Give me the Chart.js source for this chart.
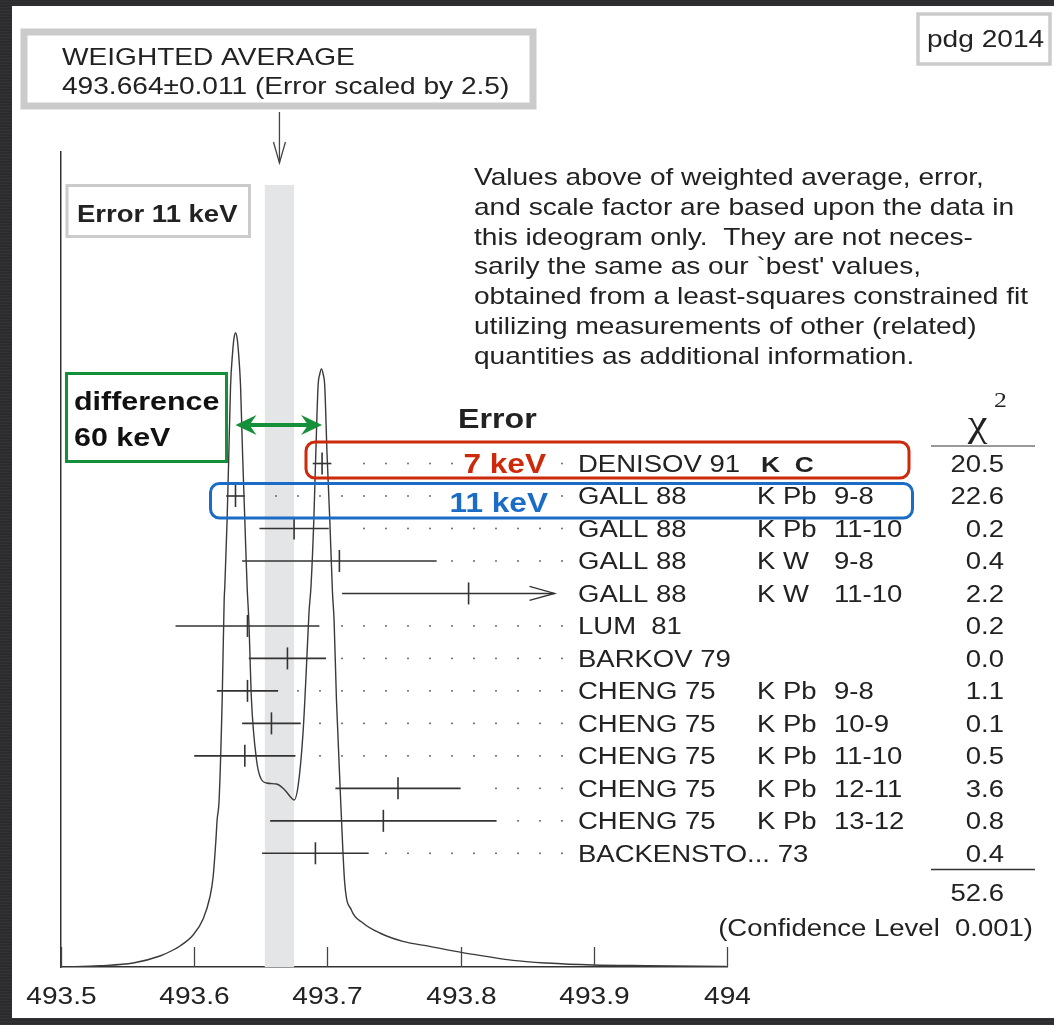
<!DOCTYPE html>
<html>
<head>
<meta charset="utf-8">
<script src="https://cdn.jsdelivr.net/npm/chart.js@4.4.1/dist/chart.umd.min.js"></script>
<style>
  html, body { margin: 0; padding: 0; }
  body {
    width: 1054px; height: 1025px; overflow: hidden; position: relative;
    background-color: #2c2c2e;
    background-image: repeating-linear-gradient(0deg, rgba(255,255,255,0.035) 0px, rgba(255,255,255,0.035) 1px, rgba(0,0,0,0) 1px, rgba(0,0,0,0) 3px);
  }
  #panel { position: absolute; left: 12px; top: 6px; width: 1042px; height: 1012px; background: #fff; }
  #chart { position: absolute; left: 0; top: 0; }
</style>
</head>
<body>
<div id="panel"></div>
<canvas id="chart" width="1054" height="1025"></canvas>
<script>
// measurements, one per row, top to bottom
const authors = ["DENISOV 91", "GALL 88", "GALL 88", "GALL 88", "GALL 88", "LUM  81", "BARKOV 79",
  "CHENG 75", "CHENG 75", "CHENG 75", "CHENG 75", "CHENG 75", "BACKENSTO... 73"];
const targets = ["K  C", "K Pb", "K Pb", "K W", "K W", "", "", "K Pb", "K Pb", "K Pb", "K Pb", "K Pb", ""];
const transitions = ["", "9-8", "11-10", "9-8", "11-10", "", "", "9-8", "10-9", "11-10", "12-11", "13-12", ""];
const masses = [493.696, 493.631, 493.675, 493.709, 493.806, 493.640, 493.670, 493.640, 493.658, 493.638, 493.753, 493.742, 493.691];
const errors = [0.007, 0.007, 0.026, 0.073, 0.095, 0.054, 0.029, 0.023, 0.022, 0.038, 0.047, 0.085, 0.040];
const chi2 = ["20.5", "22.6", "0.2", "0.4", "2.2", "0.2", "0.0", "1.1", "0.1", "0.5", "3.6", "0.8", "0.4"];
const chi2Total = "52.6";
const confLevel = "0.001";

// weighted average
const avgMass = 493.664;
const avgErr = 0.011;
const scaleFactor = 2.5;

// ideogram curve (x in MeV, y = height above axis)
const ideoX = [493.500, 493.5293, 493.5542, 493.5743, 493.5842, 493.5893, 493.5992, 493.6067, 493.6118, 493.6142,
  493.6163, 493.6172, 493.6187, 493.6210, 493.6225, 493.6230, 493.6247, 493.6260, 493.6273, 493.6288,
  493.6299, 493.6310, 493.6322, 493.6333, 493.6348, 493.6363, 493.6380, 493.6397, 493.6410, 493.6430,
  493.6468, 493.6493, 493.6543, 493.6618, 493.6680, 493.6730, 493.6750, 493.6780, 493.6817, 493.6843,
  493.6862, 493.6877, 493.6898, 493.6913, 493.6930, 493.6943, 493.6955, 493.6968, 493.6980, 493.6997,
  493.7018, 493.7038, 493.7050, 493.7068, 493.7105, 493.7130, 493.7180, 493.7267, 493.7393, 493.7567,
  493.7768, 493.8005, 493.8193, 493.8392, 493.8643, 493.8992, 493.9393, 493.9993];
const ideoY = [0, 1.3, 4, 11, 17, 21, 32, 48, 70, 90,
  127, 147, 167, 267, 367, 381, 447, 514, 581, 614,
  629, 634, 629, 614, 581, 514, 447, 381, 347, 267,
  207, 191, 184, 183, 177, 169, 167, 181, 234, 301,
  355, 381, 447, 514, 581, 593, 598, 593, 581, 514,
  447, 375, 347, 267, 150, 84, 57, 44, 34, 25.6,
  20.6, 14.6, 10.6, 6.6, 4, 2, 1.3, 0.6];

const xMin = 493.5, xMax = 494, xStep = 0.1;
const barClip = 493.8705;

const paragraph = [
  "Values above of weighted average, error,",
  "and scale factor are based upon the data in",
  "this ideogram only.  They are not neces-",
  "sarily the same as our `best' values,",
  "obtained from a least-squares constrained fit",
  "utilizing measurements of other (related)",
  "quantities as additional information."
];

const SX = 1.17;
const FONT = "'Liberation Sans', Arial, Helvetica, sans-serif";
const SERIF = "'Liberation Serif', 'Times New Roman', serif";
const INK = "#222";
const RED = "#cc2a0a";
const BLUE = "#1a6cc6";
const GREEN = "#15903a";
const BOXGRAY = "#cbcbcb";

function txt(ctx, s, x, y, size, o) {
  o = o || {};
  ctx.save();
  ctx.font = (o.bold ? "bold " : "") + size + "px " + (o.family || FONT);
  ctx.fillStyle = o.color || INK;
  const w = ctx.measureText(s).width * SX;
  let x0 = x;
  if (o.align === "right") x0 = x - w;
  if (o.align === "center") x0 = x - w / 2;
  if (o.bg) {
    ctx.fillStyle = o.bg;
    ctx.fillRect(x0 - 3, y - size * 0.85, w + 6, size * 0.95);
    ctx.fillStyle = o.color || INK;
  }
  ctx.translate(x0, y);
  ctx.scale(SX, 1);
  ctx.textBaseline = "alphabetic";
  ctx.textAlign = "left";
  ctx.fillText(s, 0, 0);
  ctx.restore();
  return w;
}

function seg(ctx, x1, y1, x2, y2) {
  ctx.beginPath(); ctx.moveTo(x1, y1); ctx.lineTo(x2, y2); ctx.stroke();
}

function roundBox(ctx, x, y, w, h, r) {
  ctx.beginPath();
  ctx.roundRect(x, y, w, h, r);
  ctx.stroke();
}

function greenHead(ctx, tx, ty, dir) {
  ctx.beginPath();
  ctx.moveTo(tx, ty);
  ctx.lineTo(tx + dir * 21, ty - 10);
  ctx.lineTo(tx + dir * 14, ty);
  ctx.lineTo(tx + dir * 21, ty + 10);
  ctx.closePath();
  ctx.fill();
}

const ideogramPlugin = {
  id: "ideogram",
  beforeDatasetsDraw(chart) {
    const { ctx, chartArea } = chart;
    const x = chart.scales.x;
    const x0 = x.getPixelForValue(avgMass - avgErr);
    const x1 = x.getPixelForValue(avgMass + avgErr);
    ctx.save();
    ctx.fillStyle = "#e4e5e7";
    ctx.fillRect(x0, 185, x1 - x0, chartArea.bottom - 185);
    ctx.restore();
  },
  afterDatasetsDraw(chart) {
    const { ctx, chartArea } = chart;
    const x = chart.scales.x, yr = chart.scales.yr;
    ctx.save();

    // axis ticks pointing inward, and their labels
    ctx.strokeStyle = "#444";
    ctx.lineWidth = 1.3;
    x.ticks.forEach(t => {
      const px = Math.round(x.getPixelForValue(t.value)) + 0.5;
      seg(ctx, px, chartArea.bottom, px, chartArea.bottom - 20);
      txt(ctx, String(Number(t.value.toFixed(1))), px, 1004, 24, { align: "center" });
    });

    // dotted leaders and clipped-bar arrows
    masses.forEach((m, i) => {
      const py = yr.getPixelForValue(i);
      const end = x.getPixelForValue(Math.min(m + errors[i], barClip));
      ctx.fillStyle = "#555";
      for (let px = 276; px <= 563; px += 22) {
        if (px > end + 14) ctx.fillRect(px - 0.8, py - 0.8, 1.6, 1.6);
      }
      if (m + errors[i] > barClip) {
        ctx.strokeStyle = "#333";
        ctx.lineWidth = 1.4;
        ctx.beginPath();
        ctx.moveTo(end - 25, py - 7);
        ctx.lineTo(end, py);
        ctx.lineTo(end - 25, py + 7);
        ctx.stroke();
      }
    });

    // error labels on the two precise measurements
    const py0 = yr.getPixelForValue(0), py1 = yr.getPixelForValue(1);
    txt(ctx, Math.round(errors[0] * 1000) + " keV", 546, py0 + 9.5, 27, { bold: true, color: RED, bg: "#fff", align: "right" });
    txt(ctx, Math.round(avgErr * 1000) + " keV", 548, py1 + 16.5, 27, { bold: true, color: BLUE, bg: "#fff", align: "right" });

    // table of references
    authors.forEach((a, i) => {
      const base = yr.getPixelForValue(i) + 8.5;
      txt(ctx, a, 578, base, 23.5);
      if (i === 0) txt(ctx, targets[i], 761, base, 22.5, { bold: true });
      else if (targets[i]) txt(ctx, targets[i], 757, base, 23.5);
      if (transitions[i]) txt(ctx, transitions[i], 834, base, 23.5);
      txt(ctx, chi2[i], 1004, base, 23.5, { align: "right" });
    });

    // chi-square header and total
    txt(ctx, "\u03C7", 977.5, 436, 38, { family: SERIF, align: "center" });
    txt(ctx, "2", 994, 407, 22, { family: SERIF });
    ctx.strokeStyle = "#999"; ctx.lineWidth = 2;
    seg(ctx, 931, 446, 1035, 446);
    ctx.strokeStyle = "#333"; ctx.lineWidth = 1.5;
    seg(ctx, 931, 869.5, 1035, 869.5);
    txt(ctx, chi2Total, 1004, 901, 23.5, { align: "right" });
    txt(ctx, "(Confidence Level  " + confLevel + ")", 1033, 936, 23.5, { align: "right" });

    txt(ctx, "Error", 458, 428, 27.5, { bold: true });

    // highlight boxes
    ctx.lineWidth = 3;
    ctx.strokeStyle = RED;
    roundBox(ctx, 306, 442, 603, 36, 9);
    ctx.strokeStyle = BLUE;
    roundBox(ctx, 210.5, 483.5, 702, 34.5, 9);

    // weighted average box and arrow
    ctx.strokeStyle = BOXGRAY; ctx.lineWidth = 7;
    ctx.strokeRect(24, 32, 509, 74);
    txt(ctx, "WEIGHTED AVERAGE", 62, 65, 24);
    txt(ctx, avgMass.toFixed(3) + "\u00B1" + avgErr.toFixed(3) + " (Error scaled by " + scaleFactor + ")", 62, 94, 24);
    const ax = x.getPixelForValue(avgMass);
    ctx.strokeStyle = "#444"; ctx.lineWidth = 1.3;
    seg(ctx, ax, 112, ax, 163);
    ctx.beginPath();
    ctx.moveTo(ax - 6, 142); ctx.lineTo(ax, 163); ctx.lineTo(ax + 6, 142);
    ctx.stroke();

    // pdg label
    ctx.strokeStyle = BOXGRAY; ctx.lineWidth = 3.5;
    ctx.strokeRect(918, 14, 132, 50);
    txt(ctx, "pdg 2014", 927, 47, 24);

    // Error 11 keV box
    ctx.strokeStyle = BOXGRAY; ctx.lineWidth = 3;
    ctx.strokeRect(67, 185.5, 182.5, 51);
    txt(ctx, "Error " + Math.round(avgErr * 1000) + " keV", 77, 222, 23.5, { bold: true });

    // difference box and double arrow
    ctx.strokeStyle = GREEN; ctx.lineWidth = 3;
    ctx.strokeRect(66.5, 373.5, 160, 88);
    txt(ctx, "difference", 74, 410, 26, { bold: true, color: "#111" });
    txt(ctx, "60 keV", 74, 446, 26, { bold: true, color: "#111" });
    const gx0 = x.getPixelForValue(masses[1]), gx1 = x.getPixelForValue(masses[0]);
    ctx.strokeStyle = GREEN; ctx.fillStyle = GREEN; ctx.lineWidth = 4;
    seg(ctx, gx0 + 14, 425, gx1 - 14, 425);
    greenHead(ctx, gx0, 425, 1);
    greenHead(ctx, gx1, 425, -1);

    // explanatory note
    paragraph.forEach((line, i) => txt(ctx, line, 474, 185 + i * 29.8, 24));
    ctx.restore();
  }
};

const barSets = masses.map((m, i) => ({
  type: "line",
  data: [{ x: m - errors[i], y: i }, { x: Math.min(m + errors[i], barClip), y: i }],
  yAxisID: "yr",
  borderColor: "#333",
  borderWidth: 1.6,
  pointRadius: 0,
  tension: 0
}));

new Chart(document.getElementById("chart"), {
  type: "line",
  data: {
    datasets: [
      {
        label: "ideogram",
        data: ideoX.map((v, i) => ({ x: v, y: ideoY[i] })),
        yAxisID: "y",
        borderColor: "#3a3a3a",
        borderWidth: 1.4,
        pointRadius: 0,
        fill: false,
        cubicInterpolationMode: "monotone"
      },
      ...barSets,
      {
        label: "central values",
        data: masses.map((m, i) => ({ x: m, y: i })),
        yAxisID: "yr",
        showLine: false,
        pointStyle: "line",
        pointRotation: 90,
        pointRadius: 11,
        pointBorderWidth: 1.6,
        pointBorderColor: "#333"
      }
    ]
  },
  options: {
    responsive: false,
    animation: false,
    events: [],
    devicePixelRatio: 1,
    layout: { padding: { left: 61, right: 327, top: 152, bottom: 58 } },
    plugins: { legend: { display: false }, tooltip: { enabled: false } },
    scales: {
      x: {
        type: "linear",
        min: xMin,
        max: xMax,
        ticks: { display: false, stepSize: xStep },
        grid: { display: true, drawOnChartArea: false, drawTicks: false },
        border: { display: true, color: "#333", width: 1.5 }
      },
      y: {
        type: "linear",
        position: "left",
        min: 0,
        max: 815,
        ticks: { display: false },
        grid: { display: true, drawOnChartArea: false, drawTicks: false },
        border: { display: true, color: "#333", width: 1.5 }
      },
      yr: {
        type: "linear",
        display: false,
        reverse: true,
        min: -9.59,
        max: 15.5
      }
    }
  },
  plugins: [ideogramPlugin]
});
</script>
</body>
</html>
